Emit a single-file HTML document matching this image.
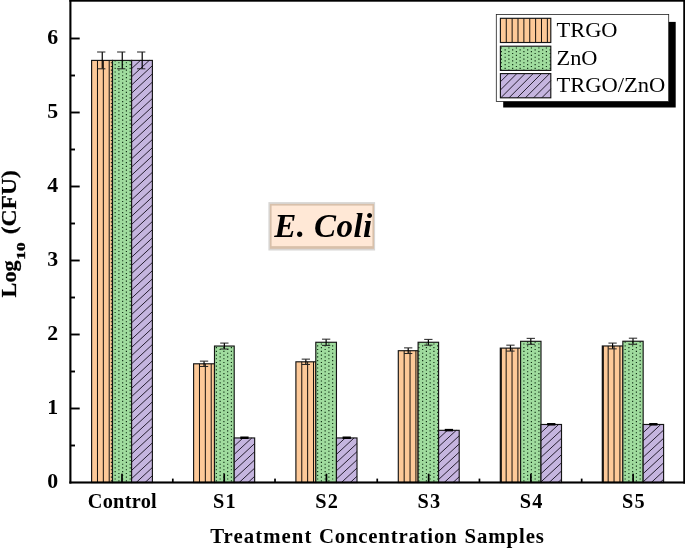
<!DOCTYPE html>
<html lang="en"><head><meta charset="utf-8"><title>E. Coli - Log10 (CFU) vs Treatment Concentration Samples</title>
<style>
html,body{margin:0;padding:0;background:#fff;}
body{width:685px;height:549px;overflow:hidden;}
svg{display:block;}
text{font-family:"Liberation Serif","Times New Roman",Times,serif;fill:#000;}
.b{font-weight:bold;}
</style></head><body>
<svg width="685" height="549" viewBox="0 0 685 549">
<rect width="685" height="549" fill="#fff"/>
<rect x="91.60" y="60.40" width="20.90" height="422.10" fill="#fdc998"/>
<path d="M97.47,60.40V482.50M103.34,60.40V482.50M109.21,60.40V482.50" stroke="#000" stroke-width="0.92" fill="none"/>
<rect x="91.60" y="60.40" width="20.90" height="422.10" fill="none" stroke="#141414" stroke-width="1.15"/>
<rect x="112.50" y="60.40" width="19.10" height="422.10" fill="#a0dc9e"/>
<path d="M111.40,62.21V482.20M115.15,60.36V482.20M118.90,62.21V482.20M122.65,60.36V482.20M126.40,62.21V482.20M130.15,60.36V482.20" stroke="#0f2c13" stroke-width="1.15" stroke-dasharray="1.15 2.55" fill="none"/>
<rect x="112.50" y="60.40" width="19.10" height="422.10" fill="none" stroke="#141414" stroke-width="1.15"/>
<rect x="131.60" y="60.40" width="20.80" height="422.10" fill="#c5b5df"/>
<path d="M131.60,68.60L140.42,60.40M131.60,76.80L149.23,60.40M131.60,85.00L152.40,65.66M131.60,93.20L152.40,73.86M131.60,101.40L152.40,82.06M131.60,109.60L152.40,90.26M131.60,117.80L152.40,98.46M131.60,126.00L152.40,106.66M131.60,134.20L152.40,114.86M131.60,142.40L152.40,123.06M131.60,150.60L152.40,131.26M131.60,158.80L152.40,139.46M131.60,167.00L152.40,147.66M131.60,175.20L152.40,155.86M131.60,183.40L152.40,164.06M131.60,191.60L152.40,172.26M131.60,199.80L152.40,180.46M131.60,208.00L152.40,188.66M131.60,216.20L152.40,196.86M131.60,224.40L152.40,205.06M131.60,232.60L152.40,213.26M131.60,240.80L152.40,221.46M131.60,249.00L152.40,229.66M131.60,257.20L152.40,237.86M131.60,265.40L152.40,246.06M131.60,273.60L152.40,254.26M131.60,281.80L152.40,262.46M131.60,290.00L152.40,270.66M131.60,298.20L152.40,278.86M131.60,306.40L152.40,287.06M131.60,314.60L152.40,295.26M131.60,322.80L152.40,303.46M131.60,331.00L152.40,311.66M131.60,339.20L152.40,319.86M131.60,347.40L152.40,328.06M131.60,355.60L152.40,336.26M131.60,363.80L152.40,344.46M131.60,372.00L152.40,352.66M131.60,380.20L152.40,360.86M131.60,388.40L152.40,369.06M131.60,396.60L152.40,377.26M131.60,404.80L152.40,385.46M131.60,413.00L152.40,393.66M131.60,421.20L152.40,401.86M131.60,429.40L152.40,410.06M131.60,437.60L152.40,418.26M131.60,445.80L152.40,426.46M131.60,454.00L152.40,434.66M131.60,462.20L152.40,442.86M131.60,470.40L152.40,451.06M131.60,478.60L152.40,459.26M136.23,482.50L152.40,467.46M145.05,482.50L152.40,475.66" stroke="#140f1c" stroke-width="0.9" fill="none"/>
<rect x="131.60" y="60.40" width="20.80" height="422.10" fill="none" stroke="#141414" stroke-width="1.15"/>
<path d="M102.25,52.00V68.80" stroke="#000" stroke-width="1.2" fill="none"/>
<path d="M97.10,52.00H105.40M97.10,68.80H105.40" stroke="#222" stroke-width="1.0" fill="none"/>
<path d="M122.25,52.00V68.80" stroke="#000" stroke-width="1.2" fill="none"/>
<path d="M117.10,52.00H125.40M117.10,68.80H125.40" stroke="#222" stroke-width="1.0" fill="none"/>
<path d="M142.20,52.00V68.80" stroke="#000" stroke-width="1.2" fill="none"/>
<path d="M137.05,52.00H145.35M137.05,68.80H145.35" stroke="#222" stroke-width="1.0" fill="none"/>
<rect x="193.60" y="363.80" width="20.90" height="118.70" fill="#fdc998"/>
<path d="M199.47,363.80V482.50M205.34,363.80V482.50M211.21,363.80V482.50" stroke="#000" stroke-width="0.92" fill="none"/>
<rect x="193.60" y="363.80" width="20.90" height="118.70" fill="none" stroke="#141414" stroke-width="1.15"/>
<rect x="214.50" y="346.04" width="19.70" height="136.46" fill="#a0dc9e"/>
<path d="M216.40,347.11V482.20M220.15,348.96V482.20M223.90,347.11V482.20M227.65,348.96V482.20M231.40,347.11V482.20" stroke="#0f2c13" stroke-width="1.15" stroke-dasharray="1.15 2.55" fill="none"/>
<rect x="214.50" y="346.04" width="19.70" height="136.46" fill="none" stroke="#141414" stroke-width="1.15"/>
<rect x="234.20" y="437.95" width="20.45" height="44.55" fill="#c5b5df"/>
<path d="M234.20,446.15L243.02,437.95M234.20,454.35L251.83,437.95M234.20,462.55L254.65,443.53M234.20,470.75L254.65,451.73M234.20,478.95L254.65,459.93M239.20,482.50L254.65,468.13M248.02,482.50L254.65,476.33" stroke="#140f1c" stroke-width="0.9" fill="none"/>
<rect x="234.20" y="437.95" width="20.45" height="44.55" fill="none" stroke="#141414" stroke-width="1.15"/>
<path d="M204.05,361.14V366.47" stroke="#000" stroke-width="1.2" fill="none"/>
<path d="M199.90,361.14H208.20M199.90,366.47H208.20" stroke="#222" stroke-width="1.0" fill="none"/>
<path d="M224.35,343.08V349.00" stroke="#000" stroke-width="1.2" fill="none"/>
<path d="M220.20,343.08H228.50M220.20,349.00H228.50" stroke="#222" stroke-width="1.0" fill="none"/>
<rect x="240.28" y="436.50" width="8.30" height="2.5" fill="#000"/>
<rect x="295.90" y="361.81" width="19.90" height="120.69" fill="#fdc998"/>
<path d="M301.77,361.81V482.50M307.64,361.81V482.50M313.51,361.81V482.50" stroke="#000" stroke-width="0.92" fill="none"/>
<rect x="295.90" y="361.81" width="19.90" height="120.69" fill="none" stroke="#141414" stroke-width="1.15"/>
<rect x="315.80" y="342.27" width="20.65" height="140.23" fill="#a0dc9e"/>
<path d="M317.65,345.26V482.20M321.40,343.41V482.20M325.15,345.26V482.20M328.90,343.41V482.20M332.65,345.26V482.20" stroke="#0f2c13" stroke-width="1.15" stroke-dasharray="1.15 2.55" fill="none"/>
<rect x="315.80" y="342.27" width="20.65" height="140.23" fill="none" stroke="#141414" stroke-width="1.15"/>
<rect x="336.45" y="437.95" width="20.55" height="44.55" fill="#c5b5df"/>
<path d="M336.45,446.15L345.27,437.95M336.45,454.35L354.08,437.95M336.45,462.55L357.00,443.44M336.45,470.75L357.00,451.64M336.45,478.95L357.00,459.84M341.45,482.50L357.00,468.04M350.27,482.50L357.00,476.24" stroke="#140f1c" stroke-width="0.9" fill="none"/>
<rect x="336.45" y="437.95" width="20.55" height="44.55" fill="none" stroke="#141414" stroke-width="1.15"/>
<path d="M305.85,359.14V364.47" stroke="#000" stroke-width="1.2" fill="none"/>
<path d="M301.70,359.14H310.00M301.70,364.47H310.00" stroke="#222" stroke-width="1.0" fill="none"/>
<path d="M326.12,339.16V345.38" stroke="#000" stroke-width="1.2" fill="none"/>
<path d="M321.98,339.16H330.27M321.98,345.38H330.27" stroke="#222" stroke-width="1.0" fill="none"/>
<rect x="342.58" y="436.50" width="8.30" height="2.5" fill="#000"/>
<rect x="398.30" y="350.71" width="19.80" height="131.79" fill="#fdc998"/>
<path d="M404.17,350.71V482.50M410.04,350.71V482.50M415.91,350.71V482.50" stroke="#000" stroke-width="0.92" fill="none"/>
<rect x="398.30" y="350.71" width="19.80" height="131.79" fill="none" stroke="#141414" stroke-width="1.15"/>
<rect x="418.10" y="342.27" width="20.50" height="140.23" fill="#a0dc9e"/>
<path d="M418.90,343.41V482.20M422.65,345.26V482.20M426.40,343.41V482.20M430.15,345.26V482.20M433.90,343.41V482.20M437.65,345.26V482.20" stroke="#0f2c13" stroke-width="1.15" stroke-dasharray="1.15 2.55" fill="none"/>
<rect x="418.10" y="342.27" width="20.50" height="140.23" fill="none" stroke="#141414" stroke-width="1.15"/>
<rect x="438.60" y="430.33" width="20.60" height="52.17" fill="#c5b5df"/>
<path d="M438.60,438.53L447.42,430.33M438.60,446.73L456.23,430.33M438.60,454.93L459.20,435.77M438.60,463.13L459.20,443.97M438.60,471.33L459.20,452.17M438.60,479.53L459.20,460.37M444.22,482.50L459.20,468.57M453.04,482.50L459.20,476.77" stroke="#140f1c" stroke-width="0.9" fill="none"/>
<rect x="438.60" y="430.33" width="20.60" height="52.17" fill="none" stroke="#141414" stroke-width="1.15"/>
<path d="M408.20,347.89V353.52" stroke="#000" stroke-width="1.2" fill="none"/>
<path d="M404.05,347.89H412.35M404.05,353.52H412.35" stroke="#222" stroke-width="1.0" fill="none"/>
<path d="M428.35,339.38V345.16" stroke="#000" stroke-width="1.2" fill="none"/>
<path d="M424.20,339.38H432.50M424.20,345.16H432.50" stroke="#222" stroke-width="1.0" fill="none"/>
<rect x="444.75" y="428.88" width="8.30" height="2.5" fill="#000"/>
<rect x="500.30" y="348.12" width="20.30" height="134.38" fill="#fdc998"/>
<rect x="500.10" y="348.12" width="1.7" height="134.38" fill="#000"/>
<path d="M506.17,348.12V482.50M512.04,348.12V482.50M517.91,348.12V482.50" stroke="#000" stroke-width="0.92" fill="none"/>
<rect x="500.30" y="348.12" width="20.30" height="134.38" fill="none" stroke="#141414" stroke-width="1.15"/>
<rect x="520.60" y="341.31" width="20.40" height="141.19" fill="#a0dc9e"/>
<path d="M523.90,343.41V482.20M527.65,341.56V482.20M531.40,343.41V482.20M535.15,341.56V482.20M538.90,343.41V482.20" stroke="#0f2c13" stroke-width="1.15" stroke-dasharray="1.15 2.55" fill="none"/>
<rect x="520.60" y="341.31" width="20.40" height="141.19" fill="none" stroke="#141414" stroke-width="1.15"/>
<rect x="541.00" y="424.48" width="20.50" height="58.02" fill="#c5b5df"/>
<path d="M541.00,432.68L549.82,424.48M541.00,440.88L558.63,424.48M541.00,449.08L561.50,430.02M541.00,457.28L561.50,438.22M541.00,465.48L561.50,446.42M541.00,473.68L561.50,454.62M541.00,481.88L561.50,462.82M549.15,482.50L561.50,471.02M557.97,482.50L561.50,479.22" stroke="#140f1c" stroke-width="0.9" fill="none"/>
<rect x="541.00" y="424.48" width="20.50" height="58.02" fill="none" stroke="#141414" stroke-width="1.15"/>
<path d="M510.45,345.16V351.08" stroke="#000" stroke-width="1.2" fill="none"/>
<path d="M506.30,345.16H514.60M506.30,351.08H514.60" stroke="#222" stroke-width="1.0" fill="none"/>
<path d="M530.80,338.35V344.27" stroke="#000" stroke-width="1.2" fill="none"/>
<path d="M526.65,338.35H534.95M526.65,344.27H534.95" stroke="#222" stroke-width="1.0" fill="none"/>
<rect x="547.10" y="423.03" width="8.30" height="2.5" fill="#000"/>
<rect x="602.30" y="345.97" width="20.55" height="136.53" fill="#fdc998"/>
<rect x="602.10" y="345.97" width="1.7" height="136.53" fill="#000"/>
<path d="M608.17,345.97V482.50M614.04,345.97V482.50M619.91,345.97V482.50" stroke="#000" stroke-width="0.92" fill="none"/>
<rect x="602.30" y="345.97" width="20.55" height="136.53" fill="none" stroke="#141414" stroke-width="1.15"/>
<rect x="622.85" y="341.23" width="20.30" height="141.27" fill="#a0dc9e"/>
<path d="M625.15,341.56V482.20M628.90,343.41V482.20M632.65,341.56V482.20M636.40,343.41V482.20M640.15,341.56V482.20" stroke="#0f2c13" stroke-width="1.15" stroke-dasharray="1.15 2.55" fill="none"/>
<rect x="622.85" y="341.23" width="20.30" height="141.27" fill="none" stroke="#141414" stroke-width="1.15"/>
<rect x="643.15" y="424.48" width="20.45" height="58.02" fill="#c5b5df"/>
<path d="M643.15,432.68L651.97,424.48M643.15,440.88L660.78,424.48M643.15,449.08L663.60,430.07M643.15,457.28L663.60,438.27M643.15,465.48L663.60,446.47M643.15,473.68L663.60,454.67M643.15,481.88L663.60,462.87M651.30,482.50L663.60,471.07M660.12,482.50L663.60,479.27" stroke="#140f1c" stroke-width="0.9" fill="none"/>
<rect x="643.15" y="424.48" width="20.45" height="58.02" fill="none" stroke="#141414" stroke-width="1.15"/>
<path d="M612.58,343.08V348.86" stroke="#000" stroke-width="1.2" fill="none"/>
<path d="M608.43,343.08H616.73M608.43,348.86H616.73" stroke="#222" stroke-width="1.0" fill="none"/>
<path d="M633.00,338.20V344.27" stroke="#000" stroke-width="1.2" fill="none"/>
<path d="M628.85,338.20H637.15M628.85,344.27H637.15" stroke="#222" stroke-width="1.0" fill="none"/>
<rect x="649.23" y="423.03" width="8.30" height="2.5" fill="#000"/>
<g fill="#000">
<rect x="69.35" y="0" width="2.1" height="483.55"/>
<rect x="683.25" y="0" width="3" height="483.55"/>
<rect x="69.35" y="-0.2" width="616.90" height="1.9"/>
<rect x="69.35" y="481.45" width="616.90" height="2.1"/>
<rect x="70.40" y="444.55" width="4.60" height="1.9"/>
<rect x="70.40" y="407.55" width="9.30" height="1.9"/>
<rect x="70.40" y="370.55" width="4.60" height="1.9"/>
<rect x="70.40" y="333.55" width="9.30" height="1.9"/>
<rect x="70.40" y="296.55" width="4.60" height="1.9"/>
<rect x="70.40" y="259.55" width="9.30" height="1.9"/>
<rect x="70.40" y="222.55" width="4.60" height="1.9"/>
<rect x="70.40" y="185.55" width="9.30" height="1.9"/>
<rect x="70.40" y="148.55" width="4.60" height="1.9"/>
<rect x="70.40" y="111.55" width="9.30" height="1.9"/>
<rect x="70.40" y="74.55" width="4.60" height="1.9"/>
<rect x="70.40" y="37.55" width="9.30" height="1.9"/>
<rect x="121.15" y="473.70" width="1.7" height="8.8"/>
<rect x="171.95" y="478.60" width="1.7" height="3.9"/>
<rect x="223.37" y="473.70" width="1.7" height="8.8"/>
<rect x="274.17" y="478.60" width="1.7" height="3.9"/>
<rect x="325.59" y="473.70" width="1.7" height="8.8"/>
<rect x="376.39" y="478.60" width="1.7" height="3.9"/>
<rect x="427.81" y="473.70" width="1.7" height="8.8"/>
<rect x="478.61" y="478.60" width="1.7" height="3.9"/>
<rect x="530.03" y="473.70" width="1.7" height="8.8"/>
<rect x="580.83" y="478.60" width="1.7" height="3.9"/>
<rect x="632.25" y="473.70" width="1.7" height="8.8"/>
</g>
<text class="b" x="58.2" y="488.10" font-size="20.6" text-anchor="end" textLength="10.9" lengthAdjust="spacingAndGlyphs">0</text>
<text class="b" x="58.2" y="414.10" font-size="20.6" text-anchor="end" textLength="10.9" lengthAdjust="spacingAndGlyphs">1</text>
<text class="b" x="58.2" y="340.10" font-size="20.6" text-anchor="end" textLength="10.9" lengthAdjust="spacingAndGlyphs">2</text>
<text class="b" x="58.2" y="266.10" font-size="20.6" text-anchor="end" textLength="10.9" lengthAdjust="spacingAndGlyphs">3</text>
<text class="b" x="58.2" y="192.10" font-size="20.6" text-anchor="end" textLength="10.9" lengthAdjust="spacingAndGlyphs">4</text>
<text class="b" x="58.2" y="118.10" font-size="20.6" text-anchor="end" textLength="10.9" lengthAdjust="spacingAndGlyphs">5</text>
<text class="b" x="58.2" y="44.10" font-size="20.6" text-anchor="end" textLength="10.9" lengthAdjust="spacingAndGlyphs">6</text>
<text class="b" x="122.20" y="507.8" font-size="20.3" text-anchor="middle" textLength="69.0" lengthAdjust="spacing">Control</text>
<text class="b" x="224.42" y="507.8" font-size="20.3" text-anchor="middle" textLength="22.6" lengthAdjust="spacing">S1</text>
<text class="b" x="326.64" y="507.8" font-size="20.3" text-anchor="middle" textLength="22.6" lengthAdjust="spacing">S2</text>
<text class="b" x="428.86" y="507.8" font-size="20.3" text-anchor="middle" textLength="22.6" lengthAdjust="spacing">S3</text>
<text class="b" x="531.08" y="507.8" font-size="20.3" text-anchor="middle" textLength="22.6" lengthAdjust="spacing">S4</text>
<text class="b" x="633.30" y="507.8" font-size="20.3" text-anchor="middle" textLength="22.6" lengthAdjust="spacing">S5</text>
<text class="b" x="210.2" y="543.4" font-size="20.8" textLength="101.2" lengthAdjust="spacing">Treatment</text>
<text class="b" x="318.9" y="543.4" font-size="20.8" textLength="137.8" lengthAdjust="spacing">Concentration</text>
<text class="b" x="464.5" y="543.4" font-size="20.8" textLength="79.4" lengthAdjust="spacing">Samples</text>
<g transform="rotate(-90)" stroke="#000" stroke-width="0.25">
<text class="b" x="-297.4" y="15.7" font-size="20.6" textLength="37.0" lengthAdjust="spacingAndGlyphs">Log</text>
<text class="b" x="-259.7" y="24.8" font-size="11.8" textLength="17.4" lengthAdjust="spacingAndGlyphs" stroke="#000" stroke-width="0.35">10</text>
<text class="b" x="-234.3" y="15.7" font-size="20.6" textLength="64.2" lengthAdjust="spacingAndGlyphs">(CFU)</text>
</g>
<rect x="268.4" y="202.1" width="106.7" height="48.4" fill="#d8d6d4"/>
<rect x="269.9" y="203.9" width="104.1" height="44.9" fill="#d8c0aa"/>
<rect x="271.6" y="205.6" width="100.85" height="40.55" fill="#ffe8d6"/>
<text class="b" x="323.2" y="237.3" font-size="33" font-style="italic" text-anchor="middle" textLength="98" lengthAdjust="spacing">E. Coli</text>
<rect x="503.2" y="21.9" width="172.5" height="85.6" fill="#000"/>
<rect x="496.3" y="14.5" width="172.4" height="86.9" fill="#fff" stroke="#222" stroke-width="0.8"/>
<rect x="500.40" y="18.30" width="50.40" height="24.20" fill="#fdc998"/>
<path d="M506.27,18.30V42.50M512.14,18.30V42.50M518.01,18.30V42.50M523.88,18.30V42.50M529.75,18.30V42.50M535.62,18.30V42.50M541.49,18.30V42.50M547.36,18.30V42.50" stroke="#000" stroke-width="0.92" fill="none"/>
<rect x="500.40" y="18.30" width="50.40" height="24.20" fill="none" stroke="#141414" stroke-width="1.15"/>
<rect x="500.40" y="46.20" width="50.40" height="24.20" fill="#a0dc9e"/>
<path d="M501.40,47.41V70.10M505.15,49.26V70.10M508.90,47.41V70.10M512.65,49.26V70.10M516.40,47.41V70.10M520.15,49.26V70.10M523.90,47.41V70.10M527.65,49.26V70.10M531.40,47.41V70.10M535.15,49.26V70.10M538.90,47.41V70.10M542.65,49.26V70.10M546.40,47.41V70.10M550.15,49.26V70.10" stroke="#0f2c13" stroke-width="1.15" stroke-dasharray="1.15 2.55" fill="none"/>
<rect x="500.40" y="46.20" width="50.40" height="24.20" fill="none" stroke="#141414" stroke-width="1.15"/>
<rect x="500.40" y="73.60" width="50.40" height="24.20" fill="#c5b5df"/>
<path d="M500.40,81.80L508.60,73.60M500.40,90.00L516.80,73.60M500.80,97.80L525.00,73.60M509.00,97.80L533.20,73.60M517.20,97.80L541.40,73.60M525.40,97.80L549.60,73.60M533.60,97.80L550.80,80.60M541.80,97.80L550.80,88.80M550.00,97.80L550.80,97.00" stroke="#140f1c" stroke-width="0.9" fill="none"/>
<rect x="500.40" y="73.60" width="50.40" height="24.20" fill="none" stroke="#141414" stroke-width="1.15"/>
<text x="556.5" y="37.0" font-size="20.5" textLength="61" lengthAdjust="spacingAndGlyphs">TRGO</text>
<text x="556.5" y="64.8" font-size="20.5" textLength="41" lengthAdjust="spacingAndGlyphs">ZnO</text>
<text x="556.5" y="92.4" font-size="20.5" textLength="108.8" lengthAdjust="spacingAndGlyphs">TRGO/ZnO</text>
</svg></body></html>
